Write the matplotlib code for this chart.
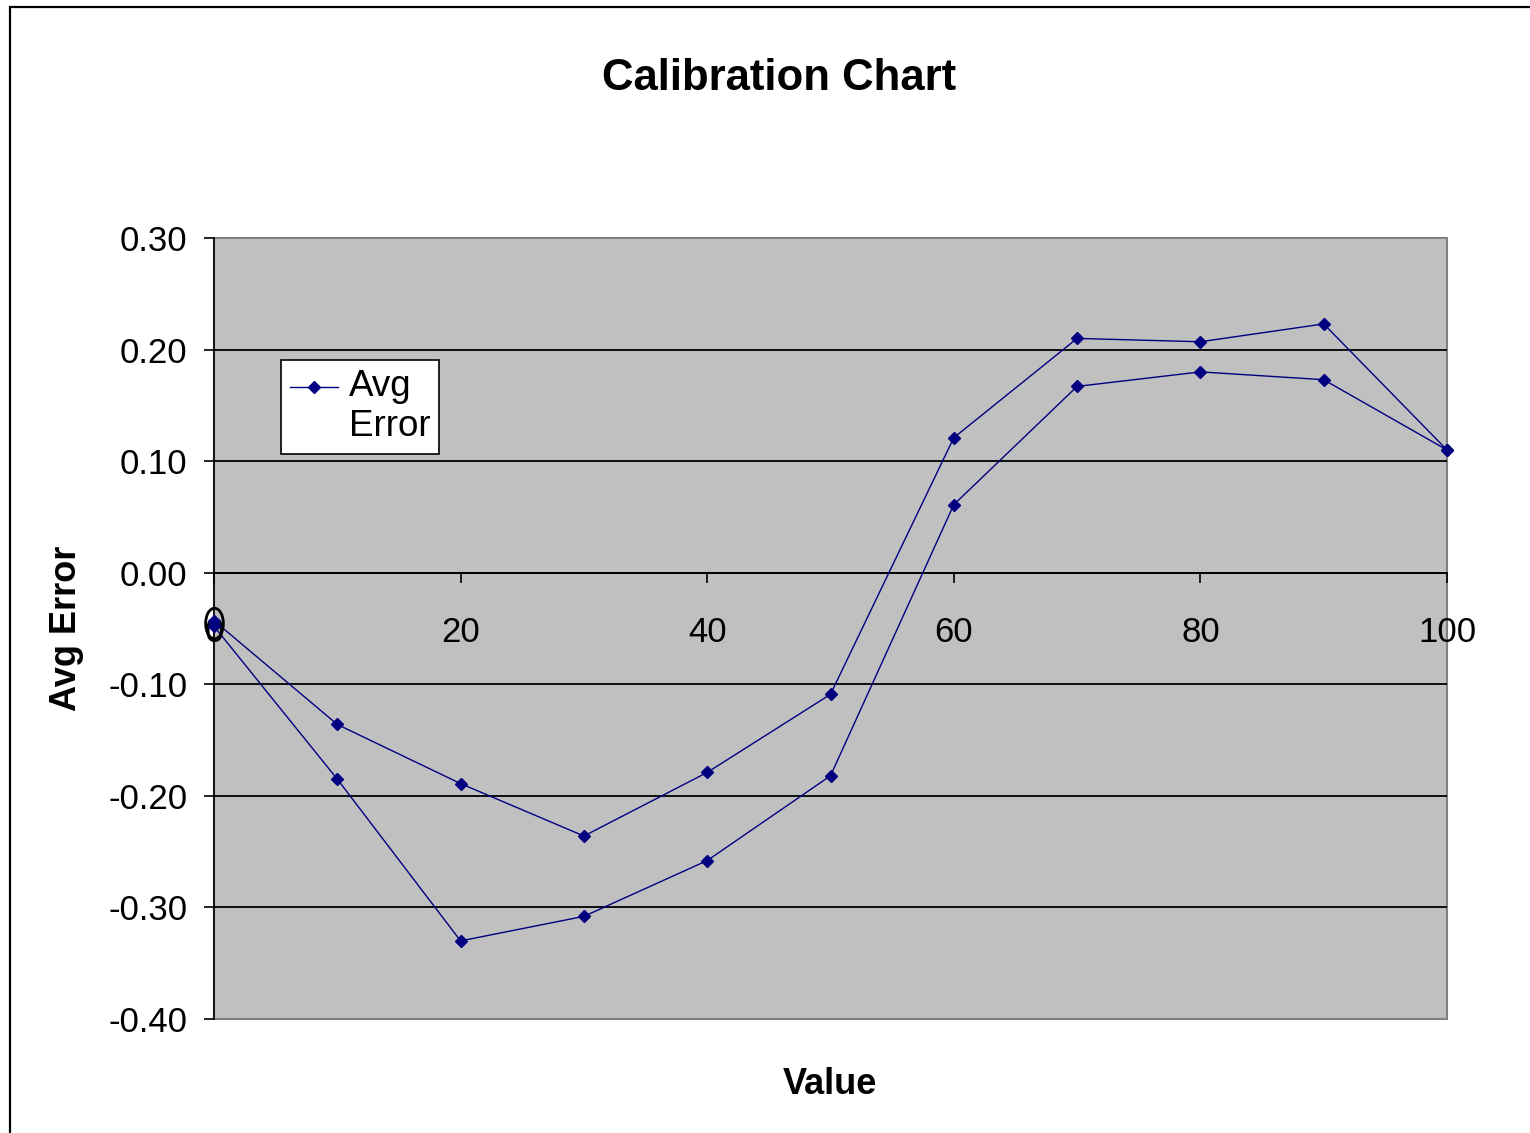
import matplotlib
matplotlib.use("Agg")
import matplotlib.pyplot as plt
from matplotlib.markers import MarkerStyle
from matplotlib.path import Path
from matplotlib.transforms import Affine2D
from matplotlib.patches import Rectangle

plt.rcParams['font.family'] = ['Liberation Sans', 'DejaVu Sans']

# calibration run: rising pass 0 -> 100, then falling pass 100 -> 0
values_up = [0, 10, 20, 30, 40, 50, 60, 70, 80, 90, 100]
error_up = [-0.048, -0.185, -0.330, -0.308, -0.258, -0.182, 0.061, 0.167, 0.180, 0.173, 0.110]
values_down = [100, 90, 80, 70, 60, 50, 40, 30, 20, 10, 0]
error_down = [0.110, 0.223, 0.207, 0.210, 0.121, -0.109, -0.179, -0.236, -0.189, -0.136, -0.043]

x_ticks = [0, 20, 40, 60, 80, 100]
y_ticks = [-0.40, -0.30, -0.20, -0.10, 0.00, 0.10, 0.20, 0.30]

navy = '#000080'
plot_bg = '#C0C0C0'

fig = plt.figure(figsize=(15.3, 11.33), dpi=100)
fig.patch.set_facecolor('white')

# chart area outline (left and top edges show)
fig.add_artist(Rectangle((10 / 1530, -0.05), 1.2, 1.05 - 7 / 1133,
                         transform=fig.transFigure, fill=False,
                         edgecolor='black', linewidth=1.6))

ax = fig.add_axes([214 / 1530, 1 - 1019 / 1133, 1233 / 1530, 781 / 1133])
ax.set_facecolor(plot_bg)
ax.patch.set_edgecolor('#808080')
ax.patch.set_linewidth(1.5)

ax.set_xlim(0, 100)
ax.set_ylim(-0.40, 0.30)

for yv in y_ticks[1:-1]:
    ax.axhline(yv, color='black', linewidth=1.3, zorder=1)

series_x = values_up + values_down
series_y = error_up + error_down
ax.plot(series_x, series_y, color=navy, linewidth=1.0, marker='D',
        markersize=6, markerfacecolor=navy, markeredgecolor=navy,
        label='Avg\nError', zorder=3, clip_on=False)

# highlighted starting point
oval = MarkerStyle(Path.unit_circle(), transform=Affine2D().scale(0.58, 1.0))
ax.plot([values_up[0]], [(error_up[0] + error_down[-1]) / 2], linestyle='none',
        marker=oval, markersize=22, markerfacecolor='none',
        markeredgecolor='black', markeredgewidth=2.0, zorder=4, clip_on=False)

for side in ['top', 'right']:
    ax.spines[side].set_visible(False)
ax.spines['left'].set_color('black')
ax.spines['left'].set_linewidth(1.2)
ax.spines['bottom'].set_position(('data', 0))
ax.spines['bottom'].set_color('black')
ax.spines['bottom'].set_linewidth(1.3)

ax.set_xticks(x_ticks)
ax.set_xticklabels([str(v) for v in x_ticks])
ax.set_yticks(y_ticks)
ax.set_yticklabels([f'{v:.2f}' for v in y_ticks])
ax.tick_params(axis='x', direction='out', length=7, width=1.2, pad=24,
               labelsize=25, colors='black')
ax.tick_params(axis='y', direction='out', length=7, width=1.2, pad=12,
               labelsize=25, colors='black')

fig.text(779 / 1530, 1 - 79 / 1133, 'Calibration Chart', ha='center',
         va='center', fontsize=31.5, fontweight='bold')
fig.text(830 / 1530, 1 - 1084 / 1133, 'Value', ha='center', va='center',
         fontsize=26, fontweight='bold')
fig.text(67 / 1530, 1 - 628 / 1133, 'Avg Error', ha='center', va='center',
         rotation=90, fontsize=26, fontweight='bold')

leg = ax.legend(loc='upper left', bbox_to_anchor=(0.054, 0.844),
                borderaxespad=0, fancybox=False, framealpha=1,
                edgecolor='black', fontsize=26.5, handlelength=1.3,
                handletextpad=0.3, borderpad=0.25, labelspacing=0.2)
leg.get_frame().set_linewidth(1.2)
for txt in leg.get_texts():
    txt.set_linespacing(1.2)
# sit the legend key beside the first line of the label
key = leg.legend_handles[0]
key.set_ydata([y + 15 for y in key.get_ydata()])

fig.savefig('out.png', dpi=100)
